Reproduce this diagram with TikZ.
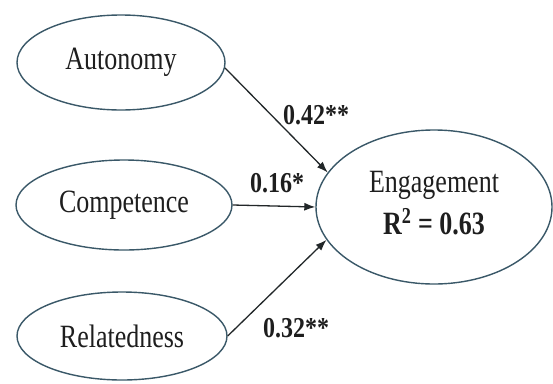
\documentclass[tikz,border=0pt]{standalone}
\usepackage{fontspec}
\setmainfont{Liberation Serif}
\usepackage{graphicx}
\usetikzlibrary{shapes.geometric,arrows.meta}
\definecolor{edgec}{HTML}{3A5868}
\definecolor{txtc}{HTML}{1E1E1E}
\tikzset{
  latent/.style={ellipse,draw=edgec,line width=1.4pt,inner sep=0pt,text=txtc,
    font=\fontsize{26}{30}\selectfont},
  path arrow/.style={draw=txtc!85!edgec,line width=1.3pt,-{Latex[length=11pt,width=8pt]}},
  coef/.style={text=txtc,font=\bfseries\fontsize{24}{28}\selectfont,inner sep=0pt}
}
\begin{document}
\begin{tikzpicture}[x=1pt,y=-1pt]
\useasboundingbox (0,0) rectangle (553,383);
\clip (0,0) rectangle (553,383);
\fill[white] (0,0) rectangle (553,383);
\node[latent,minimum width=208pt,minimum height=95pt] (aut) at (121,62.5) {\scalebox{1}[1.25]{Autonomy}};
\node[latent,minimum width=216pt,minimum height=90pt] (com) at (124,205) {\scalebox{1}[1.25]{Competence}};
\node[latent,minimum width=210pt,minimum height=88pt] (rel) at (122,336) {\scalebox{1}[1.25]{Relatedness}};
\node[latent,minimum width=236pt,minimum height=154pt] (eng) at (434,207) {};
\node[text=txtc,font=\fontsize{26}{30}\selectfont,inner sep=0pt] (engt) at (434,185) {\scalebox{1}[1.25]{Engagement}};
\node[text=txtc,font=\bfseries\fontsize{26}{30}\selectfont,inner sep=0pt] (r2) at (434,222) {\scalebox{1}[1.25]{R\textsuperscript{2} = 0.63}};
\draw[path arrow] (aut.-3) -- (eng.162);
\draw[path arrow] (com.east) -- (eng.west);
\draw[path arrow] (rel.east) -- (eng.197);
\node[coef] (c1) at (316,115) {\scalebox{1}[1.2]{0.42**}};
\node[coef] (c2) at (277,183) {\scalebox{1}[1.2]{0.16*}};
\node[coef] (c3) at (296,328) {\scalebox{1}[1.2]{0.32**}};
\end{tikzpicture}
\end{document}
